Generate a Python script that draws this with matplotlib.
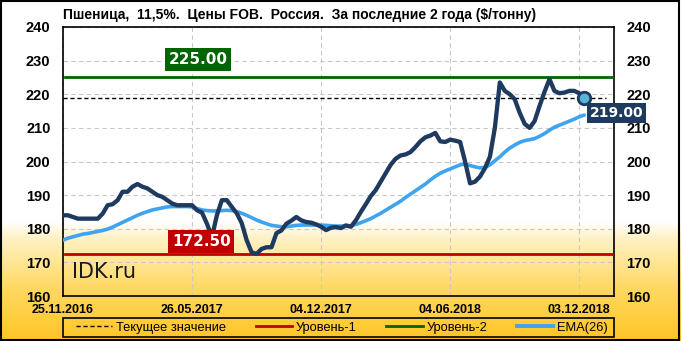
import numpy as np
import matplotlib.pyplot as plt
from matplotlib.colors import LinearSegmentedColormap
from matplotlib.patches import Rectangle
from matplotlib.lines import Line2D

plt.rcParams['font.family'] = ['Liberation Sans', 'DejaVu Sans']

title = 'Пшеница,  11,5%.  Цены FOB.  Россия.  За последние 2 года ($/тонну)'

price = [184, 184, 183.5, 183, 183, 183, 183, 183, 184.5, 187,
         187.3, 188.5, 191, 191, 192.5, 193.3, 192.5, 192, 191, 190,
         189.5, 188.5, 187.5, 187, 187, 187, 187, 185.5, 184.8, 181.5,
         177.5, 184, 188.5, 188.5, 186.5, 184.6, 181.7, 176.6, 173, 172.5,
         174, 174.5, 174.5, 178.7, 179.5, 181.5, 182.4, 183.5, 182.5, 182,
         181.8, 181.3, 180.6, 179.6, 180.3, 180.5, 180.2, 181, 180.6, 182.5,
         185, 187.3, 189.7, 191.5, 194, 196.5, 199, 200.8, 201.8, 202.1,
         202.8, 204.3, 206, 207.2, 207.7, 208.5, 206, 205.8, 206.5, 206.2,
         205.8, 200, 193.5, 194, 195.5, 198, 201.4, 210, 223.5, 221,
         220, 218.5, 214.5, 211.2, 210, 212, 216.5, 220.7, 224.5, 221,
         220.3, 220.5, 221, 221, 220.3, 219]

ema26 = [176.6, 177.2, 177.6, 178.0, 178.4, 178.6, 178.9, 179.2, 179.5, 179.9,
         180.5, 181.2, 181.9, 182.6, 183.3, 184.0, 184.6, 185.1, 185.6, 185.9,
         186.2, 186.5, 186.6, 186.6, 186.6, 186.6, 186.5, 186.0, 185.6, 185.4,
         185.3, 185.3, 185.4, 185.5, 185.4, 185.1, 184.6, 184.0, 183.3, 182.6,
         182.0, 181.5, 181.0, 180.8, 180.6, 180.6, 180.8, 181.0, 181.1, 181.1,
         181.1, 181.1, 181.1, 181.0, 180.9, 180.8, 180.8, 180.8, 180.9, 181.3,
         181.8, 182.4, 183.0, 183.8, 184.6, 185.5, 186.4, 187.3, 188.2, 189.3,
         190.3, 191.3, 192.3, 193.3, 194.5, 195.6, 196.5, 197.2, 197.8, 198.4,
         199.0, 199.2, 198.8, 198.4, 198.1, 198.2, 199.0, 200.2, 201.4, 202.8,
         204.0, 204.9, 205.7, 206.2, 206.5, 206.8, 207.5, 208.3, 209.3, 210.2,
         210.8, 211.4, 212.0, 212.6, 213.3, 213.8]

tick_idx = [0, 26, 52, 78, 104]
tick_labels = ['25.11.2016', '26.05.2017', '04.12.2017', '04.06.2018', '03.12.2018']

level1 = 172.5
level2 = 225.0
current = price[-1]

navy = '#1f3a5f'
blue = '#3fa4f0'
red = '#c00000'
green = '#006400'

fig = plt.figure(figsize=(6.81, 3.41), dpi=100)

# background gradient (white -> yellow)
bg = fig.add_axes([0, 0, 1, 1], zorder=-10)
cmap = LinearSegmentedColormap.from_list('bg', [(0, '#ffc524'), (0.15, '#ffd860'),
                                                (0.3, '#fff1c4'), (0.35, '#ffffff'),
                                                (1, '#ffffff')])
grad = np.linspace(0, 1, 256).reshape(-1, 1)
bg.imshow(grad, aspect='auto', cmap=cmap, origin='lower', extent=[0, 1, 0, 1])
bg.add_patch(Rectangle((0.002, 0.004), 0.995, 0.992, fill=False, edgecolor='black', lw=1.5))
# legend frame
bg.add_patch(Rectangle((63 / 681, 4 / 341), 551 / 681, 19 / 341, fill=False,
                       edgecolor='black', lw=1.2))
bg.set_xlim(0, 1)
bg.set_ylim(0, 1)
bg.axis('off')

ax = fig.add_axes([63 / 681, 45 / 341, 551 / 681, 269 / 341])
ax.patch.set_alpha(0)
x = np.arange(len(price))

ax.axhline(level2, xmin=0.004, xmax=0.996, color=green, lw=2, zorder=3)
ax.axhline(level1, xmin=0.004, xmax=0.996, color=red, lw=2, zorder=3)
ax.axhline(current, xmin=0, xmax=0.985, color='black', lw=1, ls=(0, (3, 2)), zorder=3)
ax.plot(x, ema26, color=blue, lw=2.6, zorder=4, solid_capstyle='round')
ax.plot(x, price, color=navy, lw=3.1, zorder=5, solid_joinstyle='round')
ax.plot(x[-1], price[-1], 'o', ms=9, mfc='#5ab4d6', mec=navy, mew=2, zorder=6)

ax.set_xlim(0, 111)
ax.set_ylim(160, 240)
ax.set_yticks(range(160, 241, 10))
ax.set_xticks(tick_idx)
ax.set_xticklabels(tick_labels)
ax.grid(True, color='#c8c8c8', ls=(0, (4, 3)), lw=0.8)
ax.tick_params(length=0)
ax.tick_params(axis='y', pad=9, labelsize=10.5, left=True, right=True,
               labelleft=True, labelright=True)
ax.tick_params(axis='x', pad=6, labelsize=9)
for lab in ax.get_xticklabels():
    lab.set_fontweight('bold')
for t in ax.yaxis.get_major_ticks():
    t.label1.set_fontweight('bold')
    t.label2.set_fontweight('bold')
for s in ax.spines.values():
    s.set_linewidth(1.2)

ytr = ax.get_yaxis_transform()
ax.text(0.245, 230.3, '225.00', color='white', fontsize=11, fontweight='bold',
        family='DejaVu Sans', ha='center', va='center', transform=ytr, zorder=7,
        bbox=dict(boxstyle='square,pad=0.25', fc=green, ec='none'))
ax.text(0.251, 176.3, '172.50', color='white', fontsize=11, fontweight='bold',
        family='DejaVu Sans', ha='center', va='center', transform=ytr, zorder=7,
        bbox=dict(boxstyle='square,pad=0.25', fc=red, ec='none'))
ax.text(1.004, current - 4.6, '219.00', color='white', fontsize=10, fontweight='bold',
        family='DejaVu Sans', ha='center', va='center', transform=ytr, zorder=7,
        clip_on=False, bbox=dict(boxstyle='square,pad=0.2', fc=navy, ec='none'))
ax.text(0.017, 167.2, 'IDK.ru', color='#1a1a1a', fontsize=15, family='DejaVu Sans',
        ha='left', va='center', transform=ytr)

fig.text(63 / 681, 1 - 15 / 341, title, fontsize=10, fontweight='bold', ha='left', va='center')

handles = [Line2D([], [], color='black', lw=1, ls=(0, (3, 2))),
           Line2D([], [], color=red, lw=2),
           Line2D([], [], color=green, lw=2),
           Line2D([], [], color=blue, lw=2.8)]
names = ['Текущее значение', 'Уровень-1', 'Уровень-2', 'EMA(26)']
leg = fig.legend(handles, names, loc='center', ncol=4, frameon=False,
                 bbox_to_anchor=(342 / 681, 13.5 / 341),
                 fontsize=9.3, handlelength=2.8, handletextpad=0.3, columnspacing=2.3)

fig.savefig('out.png', dpi=100)
